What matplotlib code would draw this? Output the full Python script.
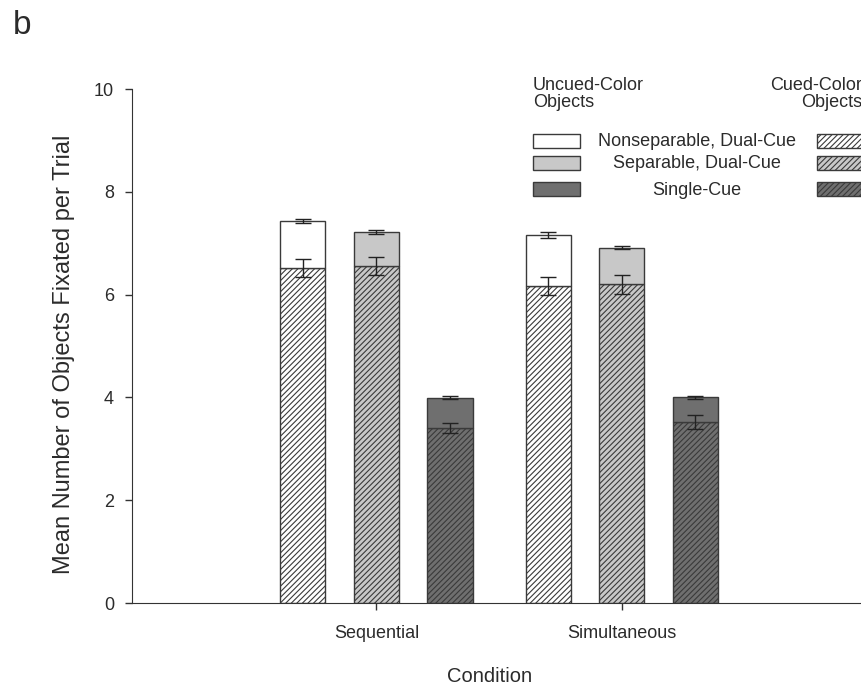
import numpy as np
import matplotlib.pyplot as plt
import matplotlib.patches as mpatches

plt.rcParams['font.family'] = 'Liberation Sans'
plt.rcParams['hatch.linewidth'] = 0.8
plt.rcParams['text.color'] = '#2b2b2b'

conditions = ['Sequential', 'Simultaneous']
types = ['Nonseparable, Dual-Cue', 'Separable, Dual-Cue', 'Single-Cue']
# cued-color objects (hatched part), per condition and cue type
cued = [[6.52, 6.56, 3.40],
        [6.17, 6.20, 3.52]]
cued_err = [[0.18, 0.17, 0.10],
            [0.18, 0.19, 0.14]]
# total objects fixated (top of the stacked bar)
total = [[7.44, 7.22, 3.99],
         [7.16, 6.91, 4.00]]
total_err = [[0.04, 0.04, 0.03],
             [0.05, 0.03, 0.03]]

fills = ['white', '#c8c8c8', '#6f6f6f']
edge = '#3a3a3a'
W, H = 862, 688

fig = plt.figure(figsize=(8.62, 6.88), dpi=100)
ax = fig.add_axes([132 / W, 1 - 603 / H, 735 / W, 514 / H])

w = 0.184
offs = [-0.3, 0.0, 0.3]
for i in range(2):
    for j in range(3):
        x = i + 1 + offs[j]
        ax.bar(x, cued[i][j], w, color=fills[j], edgecolor=edge, hatch='//////', lw=1.0, zorder=2)
        ax.bar(x, total[i][j] - cued[i][j], w, bottom=cued[i][j], color=fills[j], edgecolor=edge, lw=1.0, zorder=2)
        ax.errorbar(x, cued[i][j], yerr=cued_err[i][j], color='#222222', capsize=6, lw=1, capthick=1, zorder=3)
        ax.errorbar(x, total[i][j], yerr=total_err[i][j], color='#222222', capsize=6, lw=1, capthick=1, zorder=3)

ax.set_xlim(0.004, 3.0)
ax.set_ylim(0, 10)
ax.set_yticks([0, 2, 4, 6, 8, 10])
ax.set_xticks([1, 2])
ax.set_xticklabels(conditions)
ax.tick_params(axis='both', direction='out', labelsize=13, color='#333333', labelcolor='#2b2b2b', width=1)
ax.tick_params(axis='y', length=5, pad=8)
ax.tick_params(axis='x', length=5, pad=11)
for s in ['top', 'right']:
    ax.spines[s].set_visible(False)
for s in ['left', 'bottom']:
    ax.spines[s].set_color('#333333')

fig.text(64 / W, 1 - 354 / H, 'Mean Number of Objects Fixated per Trial', fontsize=17,
         rotation=90, ha='center', va='center')
fig.text(490 / W, 1 - 677 / H, 'Condition', fontsize=14.5, ha='center', va='center')
fig.text(13 / W, 1 - 25 / H, 'b', fontsize=24, ha='left', va='center')

# hand-made legend
fig.text(533 / W, 1 - 94 / H, 'Uncued-Color\nObjects', fontsize=13, ha='left', va='center', linespacing=1.05)
fig.text(862 / W, 1 - 94 / H, 'Cued-Color\nObjects', fontsize=13, ha='right', va='center', linespacing=1.05)
rows = [141, 163, 189]
for j in range(3):
    yy = 1 - (rows[j] + 6.5) / H
    fig.patches.append(mpatches.Rectangle((533 / W, yy), 47 / W, 13 / H, transform=fig.transFigure,
                                          facecolor=fills[j], edgecolor=edge, lw=1.0))
    fig.patches.append(mpatches.Rectangle((817 / W, yy), 60 / W, 13 / H, transform=fig.transFigure,
                                          facecolor=fills[j], edgecolor=edge, lw=1.0, hatch='//////'))
    fig.text(697 / W, 1 - (rows[j] + 1) / H, types[j], fontsize=13, ha='center', va='center')

fig.savefig('out.png', dpi=100)
